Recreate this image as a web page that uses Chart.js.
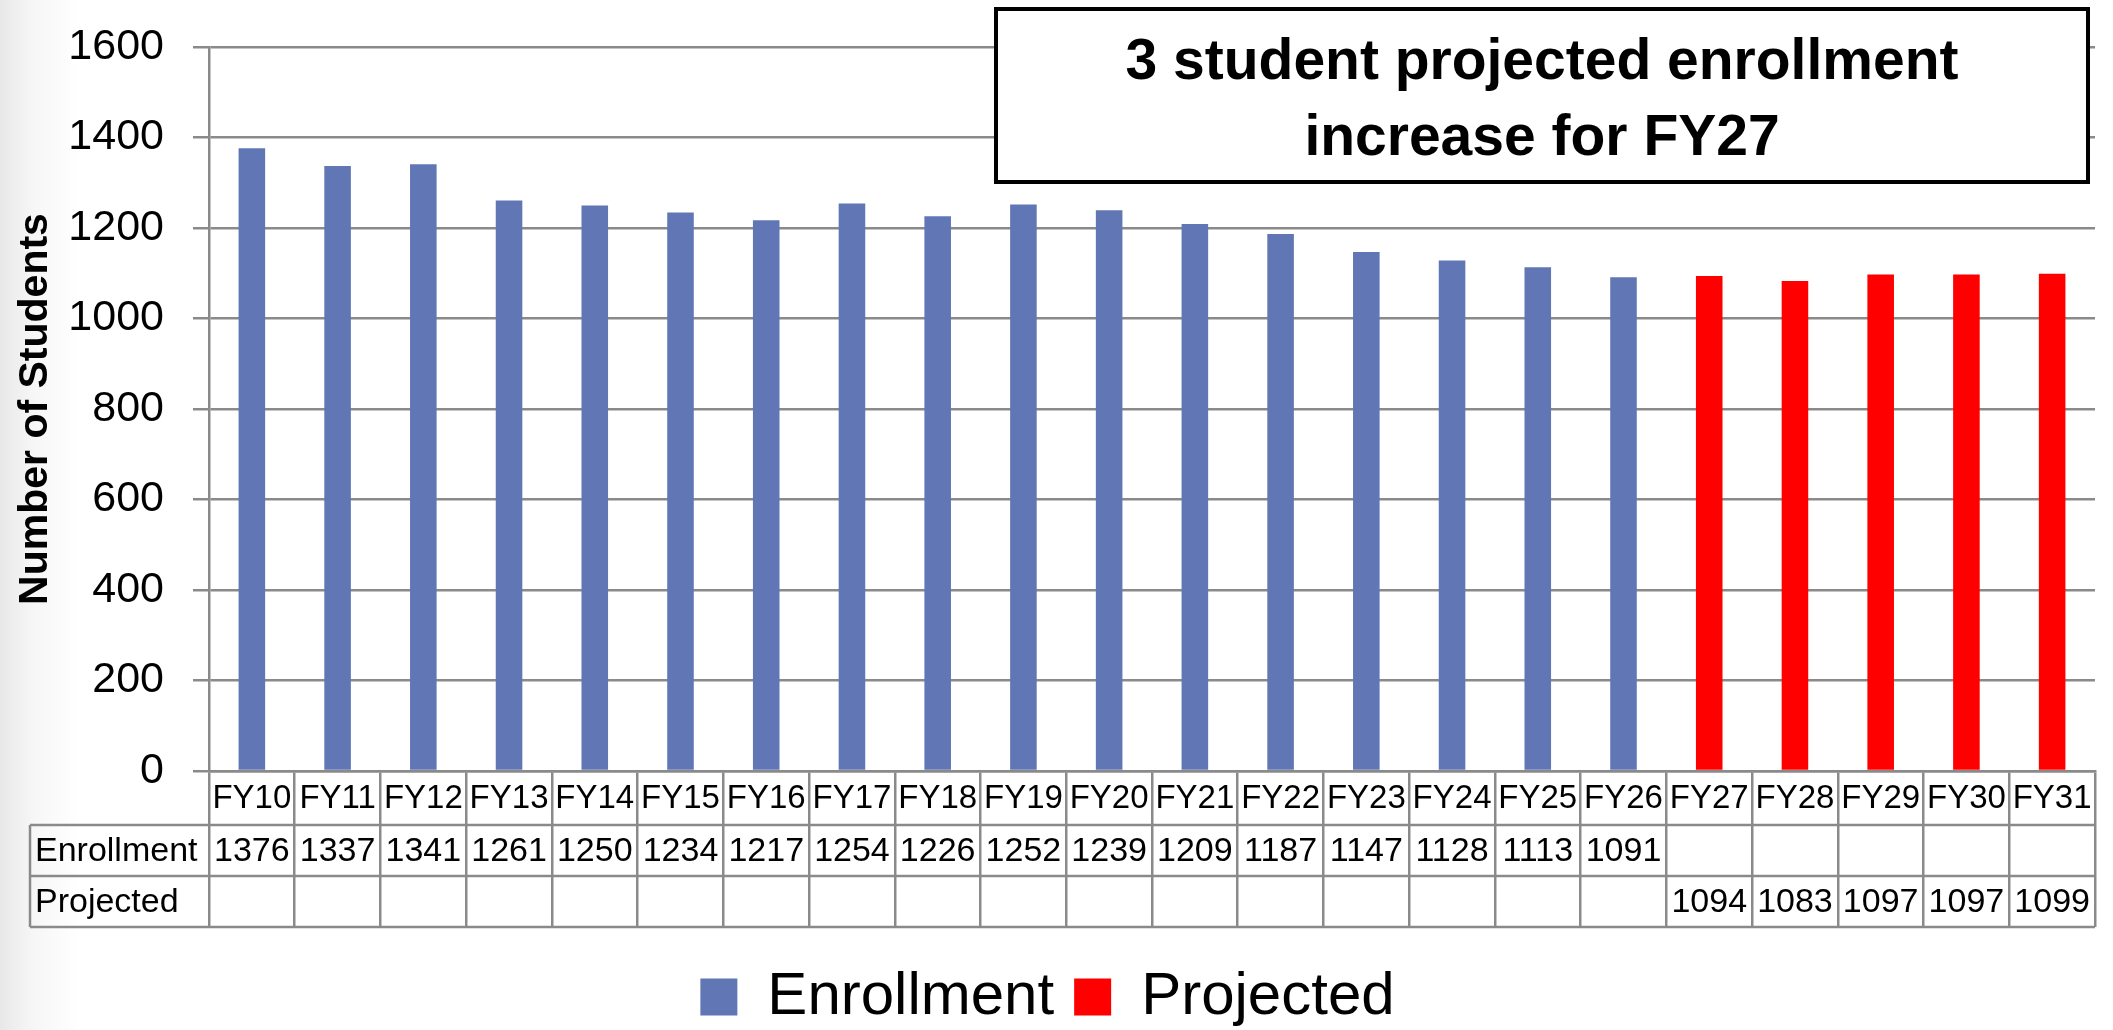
<!DOCTYPE html>
<html>
<head>
<meta charset="utf-8">
<script src="https://cdn.jsdelivr.net/npm/chart.js@4.4.1/dist/chart.umd.min.js"></script>
<style>
  html, body { margin: 0; padding: 0; }
  body {
    width: 2113px; height: 1030px; overflow: hidden;
    background: linear-gradient(90deg, #e8e8e8 0px, #f7f7f7 35px, #ffffff 80px);
  }
  canvas { display: block; }
</style>
</head>
<body>
<canvas id="myChart" width="2113" height="1030"></canvas>
<script>
// dane wykresu
const years = ['FY10', 'FY11', 'FY12', 'FY13', 'FY14', 'FY15', 'FY16', 'FY17', 'FY18', 'FY19', 'FY20',
  'FY21', 'FY22', 'FY23', 'FY24', 'FY25', 'FY26', 'FY27', 'FY28', 'FY29', 'FY30', 'FY31'];
const enrollment = [1376, 1337, 1341, 1261, 1250, 1234, 1217, 1254, 1226, 1252, 1239,
  1209, 1187, 1147, 1128, 1113, 1091, null, null, null, null, null];
const projected = [null, null, null, null, null, null, null, null, null, null, null,
  null, null, null, null, null, null, 1094, 1083, 1097, 1097, 1099];
const seriesNames = ['Enrollment', 'Projected'];
const headline = ['3 student projected enrollment', 'increase for FY27'];
const axisTitle = 'Number of Students';

const FONT = "'Liberation Sans', Arial, sans-serif";
const BLUE = '#6177b5';
const RED = '#ff0000';
const GRID = '#8a8a8a';

// tabela danych pod osia X
const tablePlugin = {
  id: 'dataTable',
  afterDraw(chart) {
    const c = chart.ctx;
    const xs = chart.scales.x;
    const top = xs.top;
    const rows = [top + 54, top + 105, top + 156];
    const left = 30;
    const right = chart.chartArea.right;
    c.save();
    c.strokeStyle = GRID;
    c.lineWidth = 2.5;
    c.beginPath();
    rows.forEach(y => { c.moveTo(left, y); c.lineTo(right, y); });
    c.moveTo(left, rows[0]);
    c.lineTo(left, rows[2]);
    c.stroke();

    c.fillStyle = '#000';
    c.font = '34px ' + FONT;
    c.textBaseline = 'middle';
    const series = [enrollment, projected];
    series.forEach((data, r) => {
      const y = (rows[r] + rows[r + 1]) / 2 + 1;
      c.textAlign = 'left';
      c.fillText(seriesNames[r], left + 5, y);
      c.textAlign = 'center';
      data.forEach((v, i) => {
        if (v !== null) c.fillText(String(v), xs.getPixelForValue(i), y);
      });
    });
    c.restore();
  }
};

// ramka z komentarzem
const headlinePlugin = {
  id: 'headline',
  afterDraw(chart) {
    const c = chart.ctx;
    const box = { x: 996, y: 9, w: 1092, h: 173 };
    c.save();
    c.fillStyle = '#fff';
    c.fillRect(box.x, box.y, box.w, box.h);
    c.strokeStyle = '#000';
    c.lineWidth = 4;
    c.strokeRect(box.x, box.y, box.w, box.h);
    c.fillStyle = '#000';
    c.font = 'bold 57px ' + FONT;
    c.textAlign = 'center';
    c.textBaseline = 'alphabetic';
    const cx = box.x + box.w / 2;
    c.fillText(headline[0], cx, 79);
    c.fillText(headline[1], cx, 155);
    c.restore();
  }
};

const ctx = document.getElementById('myChart');
const chart = new Chart(ctx, {
  type: 'bar',
  data: {
    labels: years,
    datasets: [{
      label: seriesNames[0],
      data: enrollment,
      backgroundColor: BLUE,
      grouped: false,
      barPercentage: 0.31,
      categoryPercentage: 1
    }, {
      label: seriesNames[1],
      data: projected,
      backgroundColor: RED,
      grouped: false,
      barPercentage: 0.31,
      categoryPercentage: 1
    }]
  },
  options: {
    responsive: false,
    animation: false,
    devicePixelRatio: 1,
    layout: { padding: { top: 47, right: 18, bottom: -7, left: 0 } },
    scales: {
      y: {
        min: 0,
        max: 1600,
        ticks: {
          stepSize: 200,
          color: '#000',
          font: { family: FONT, size: 43 },
          padding: 29,
          callback: v => String(v)
        },
        grid: { color: GRID, lineWidth: 2.5, tickLength: 16 },
        border: { color: GRID, width: 2.5 },
        title: {
          display: true,
          text: axisTitle,
          color: '#000',
          font: { family: FONT, size: 41, weight: 'bold' },
          padding: { top: 11, bottom: 0 }
        },
        afterFit(scale) {
          scale.width = 209;
          scale.paddingTop = 0;
          scale.paddingBottom = 0;
        }
      },
      x: {
        grid: { drawOnChartArea: false, color: GRID, lineWidth: 2.5, tickLength: 156, offset: true },
        border: { color: GRID, width: 2.5 },
        ticks: { color: '#000', font: { family: FONT, size: 33 }, padding: -148, maxRotation: 0, autoSkip: false },
        afterFit(scale) { scale.height = 176; }
      }
    },
    plugins: {
      legend: {
        position: 'bottom',
        labels: {
          color: '#000',
          font: { family: FONT, size: 60 },
          boxWidth: 37,
          boxHeight: 37,
          padding: 20
        }
      },
      tooltip: { enabled: false }
    }
  },
  plugins: [tablePlugin, headlinePlugin]
});
</script>
</body>
</html>
